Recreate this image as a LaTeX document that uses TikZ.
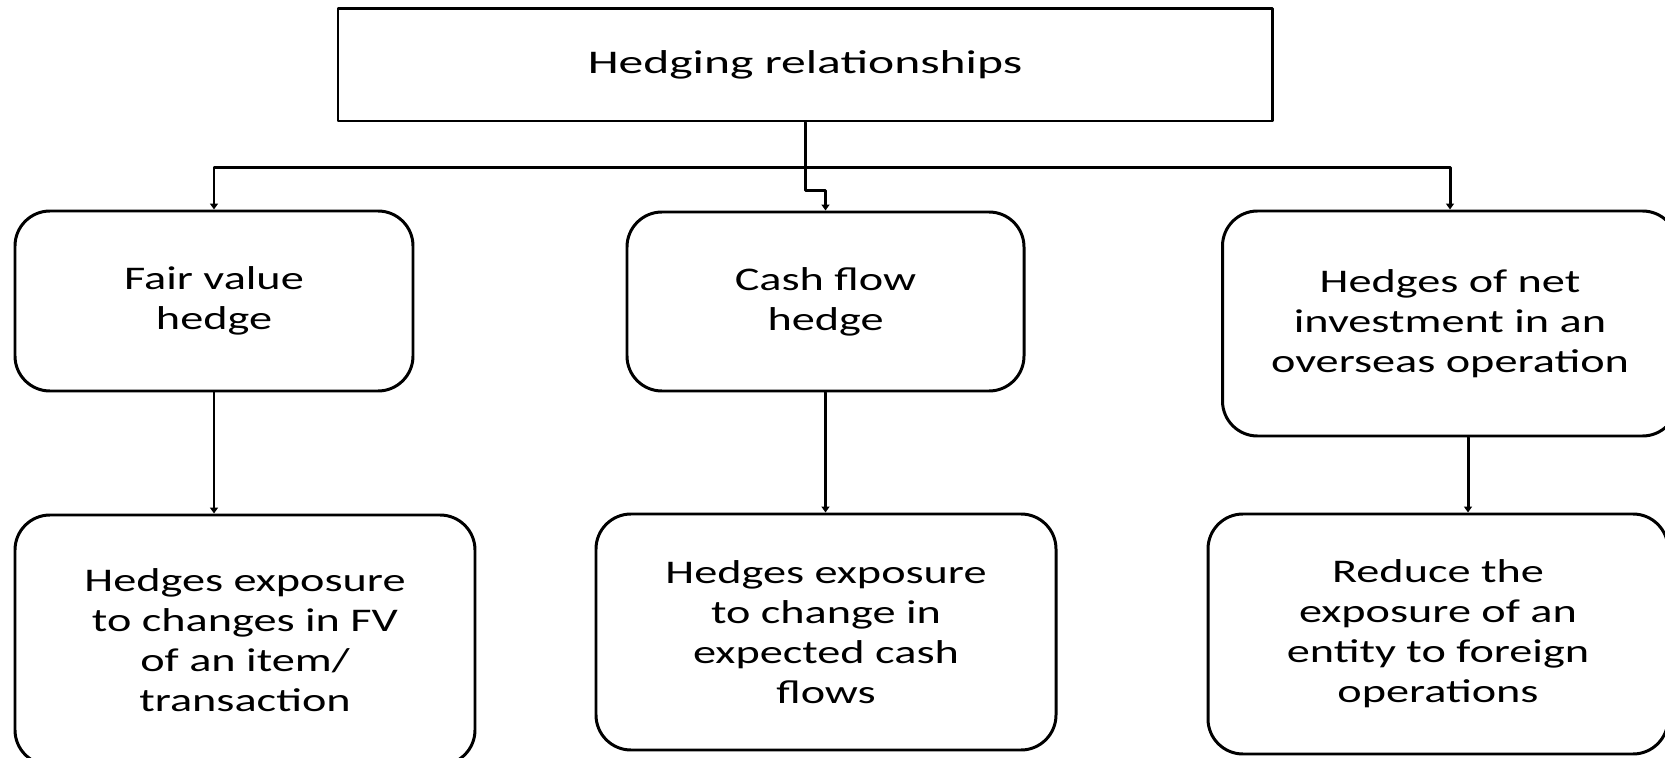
\documentclass[tikz,border=0pt]{standalone}
\usepackage{fontspec}
\usepackage{tikz}
\usetikzlibrary{arrows.meta}
\newfontfamily\boxfont[FakeStretch=1.4]{Carlito}
\newfontfamily\titlefont[FakeStretch=1.5]{Carlito}

\begin{document}
\begin{tikzpicture}[line cap=round,line join=round,x=1.0cm,y=1.0cm,
  line width=1.7pt,
  arr/.style={-{Triangle[length=0.12cm,width=0.16cm]}},
  headbox/.style={draw,rectangle,inner sep=0pt,font=\titlefont\fontsize{18.8}{22.8}\selectfont},
  kindbox/.style={draw,rectangle,rounded corners=0.7cm,inner sep=0pt,align=center,
    font=\boxfont\fontsize{18.8}{22.8}\selectfont}]
\useasboundingbox (0,0) rectangle (33.3,15.14);
\clip (0,0) rectangle (33.3,15.14);
\node[headbox,minimum width=18.68cm,minimum height=2.25cm] (hedge) at (16.10,13.845) {Hedging relationships};
\node[kindbox,minimum width=7.96cm,minimum height=3.6cm] (fvh) at (4.28,9.12) {Fair value\\hedge};
\node[kindbox,minimum width=7.94cm,minimum height=3.58cm] (cfh) at (16.51,9.11) {Cash flow\\hedge};
\node[kindbox,minimum width=9.1cm,minimum height=4.5cm] (nih) at (29.0,8.67) {Hedges of net\\investment in an\\overseas operation};
\node[kindbox,minimum width=9.2cm,minimum height=5.0cm] (fvx) at (4.9,2.34) {Hedges exposure\\to changes in FV\\of an item/\\transaction};
\node[kindbox,minimum width=9.2cm,minimum height=4.72cm] (cfx) at (16.52,2.5) {Hedges exposure\\to change in\\expected cash\\flows};
\node[kindbox,minimum width=9.2cm,minimum height=4.8cm] (nix) at (28.76,2.46) {Reduce the\\exposure of an\\entity to foreign\\operations};
\draw (hedge.south) -- ++(0,-0.9) coordinate (bus);
\draw[arr] (bus) -| (fvh.north);
\draw[arr] (bus) -| (nih.north);
\draw[arr] (bus) -- ++(0,-0.46) -| (cfh.north);
\draw[arr] (fvh.south) -- (fvh.south |- fvx.north);
\draw[arr] (cfh.south) -- (cfh.south |- cfx.north);
\draw[arr] ([xshift=0.36cm]nih.south) -- ([xshift=0.36cm]nih.south |- nix.north);
\end{tikzpicture}
\end{document}
